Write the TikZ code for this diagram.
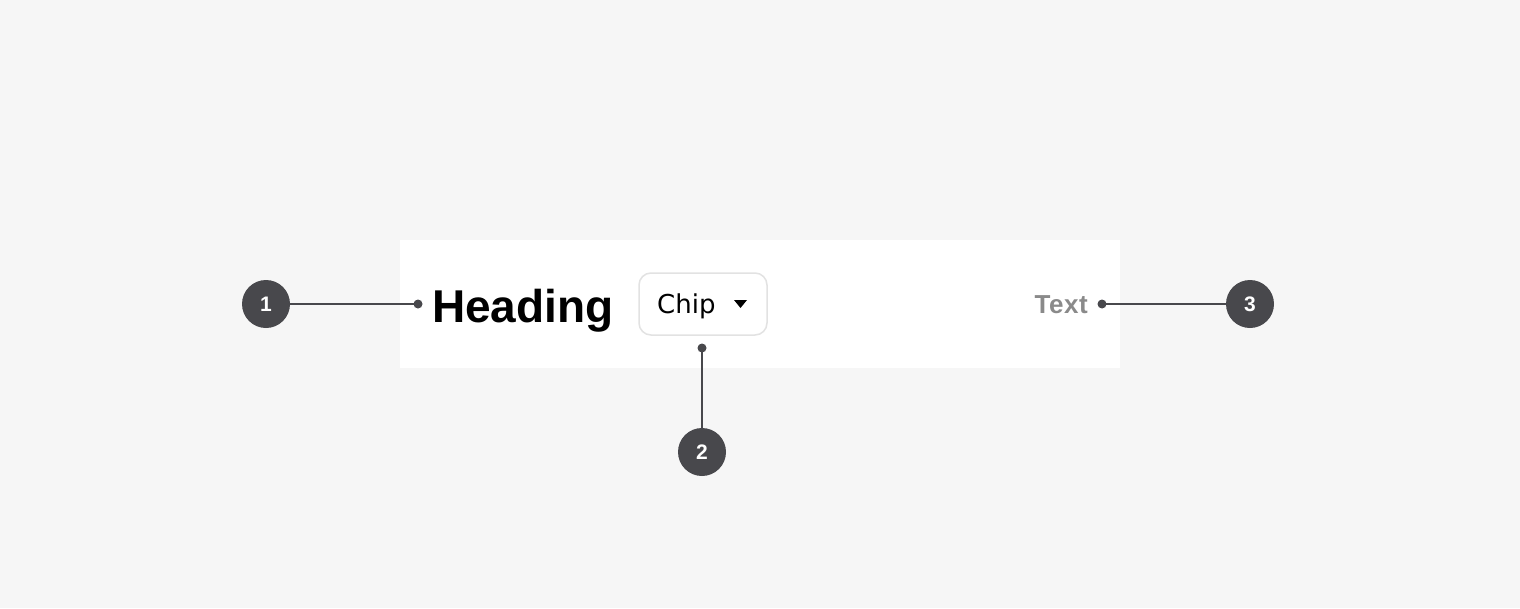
\documentclass[tikz,border=0pt]{standalone}
\usepackage{fontspec}
\setmainfont{Liberation Sans}
\newfontfamily\uifont{DejaVu Sans}
\newfontfamily\spacedbold[LetterSpace=2]{Liberation Sans Bold}
\definecolor{bg}{HTML}{F6F6F6}
\definecolor{marker}{HTML}{48484C}
\definecolor{chipborder}{HTML}{E2E2E2}
\definecolor{muted}{HTML}{8A8A8A}
\begin{document}
\begin{tikzpicture}[x=1pt,y=-1pt,
  badge/.style={circle,fill=marker,minimum size=48pt,inner sep=0pt,text=white,font=\fontsize{21}{21}\selectfont\bfseries},
  anchordot/.style={circle,fill=marker,minimum size=9pt,inner sep=0pt},
  leader/.style={draw=marker,line width=2pt}]
\fill[bg] (0,0) rectangle (1520,608);
\useasboundingbox (0,0) rectangle (1520,608);
\fill[white] (400,240) rectangle (1120,368);
% heading
\node[anchor=base west,inner sep=0pt,font=\fontsize{46}{46}\selectfont\bfseries] (heading) at (432,322) {Heading};
% chip
\node[draw=chipborder,line width=1.5pt,fill=white,rounded corners=12pt,minimum width=128pt,minimum height=62pt,inner sep=0pt] (chip) at (703,304) {};
\node[anchor=base west,inner sep=0pt,font=\uifont\fontsize{26}{26}\selectfont] (chiptext) at (657,313.5) {Chip};
\fill[black] (734,300) -- (747,300) -- (740.5,308) -- cycle;
% text
\node[anchor=base east,inner sep=0pt,text=muted,font=\spacedbold\fontsize{26}{26}\selectfont] (txt) at (1088,313) {Text};
% dots
\node[anchordot] (d1) at (418,304) {};
\node[anchordot] (d2) at (702,348) {};
\node[anchordot] (d3) at (1102,304) {};
% badges
\node[badge] (b1) at (266,304) {1};
\node[badge] (b2) at (702,452) {2};
\node[badge] (b3) at (1250,304) {3};
\draw[leader] (b1) -- (d1.center);
\draw[leader] (b2) -- (d2.center);
\draw[leader] (b3) -- (d3.center);
\end{tikzpicture}
\end{document}
